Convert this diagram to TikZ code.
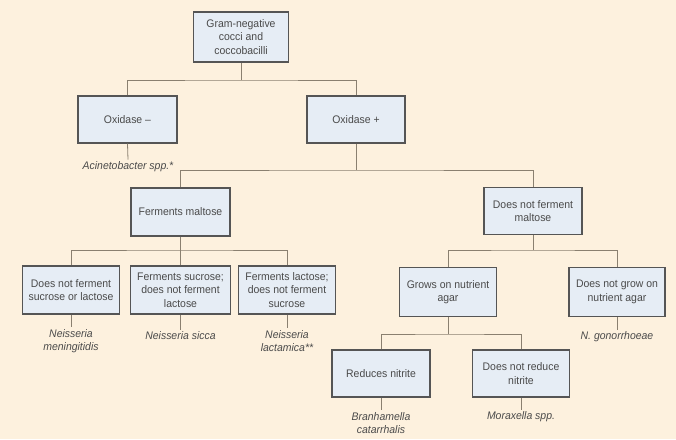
\documentclass[tikz,border=0pt]{standalone}
\usepackage{fontspec}
\setmainfont{Liberation Sans}[FakeStretch=0.95]
\definecolor{bg}{HTML}{FDF1DE}
\definecolor{boxfill}{HTML}{E6EDF5}
\definecolor{boxline}{HTML}{555555}
\definecolor{conn}{HTML}{8A8070}
\definecolor{txt}{HTML}{4A4A4A}
\begin{document}
\begin{tikzpicture}[x=1pt,y=-1pt,
  stepbox/.style={draw=boxline,fill=boxfill,line width=1.3pt,align=center,
    inner sep=2pt,text=txt,font=\fontsize{11}{13.5}\selectfont},
  result/.style={align=center,inner sep=2pt,text=txt,
    font=\fontsize{11}{13.5}\selectfont\itshape},
  link/.style={draw=conn,line width=0.8pt}]
\useasboundingbox[fill=bg] (0,0) rectangle (676,439);
% boxes
\node[stepbox,minimum width=95pt,minimum height=50pt] (top) at (241,37) {Gram-negative\\cocci and\\coccobacilli};
\node[stepbox,minimum width=99pt,minimum height=47pt] (oxm) at (127.5,119.5) {Oxidase –};
\node[stepbox,minimum width=98pt,minimum height=47pt] (oxp) at (356,119.5) {Oxidase +};
\node[stepbox,minimum width=99pt,minimum height=48pt] (fm) at (180.5,212) {Ferments maltose};
\node[stepbox,minimum width=98pt,minimum height=47pt] (nfm) at (533,211) {Does not ferment\\maltose};
\node[stepbox,minimum width=97pt,minimum height=48pt] (l1) at (71,290) {Does not ferment\\sucrose or lactose};
\node[stepbox,minimum width=100pt,minimum height=48pt] (l2) at (180.5,290) {Ferments sucrose;\\does not ferment\\lactose};
\node[stepbox,minimum width=97pt,minimum height=48pt] (l3) at (287,290) {Ferments lactose;\\does not ferment\\sucrose};
\node[stepbox,minimum width=97pt,minimum height=49pt] (grows) at (448,292) {Grows on nutrient\\agar};
\node[stepbox,minimum width=96pt,minimum height=49pt] (notgrow) at (617,292) {Does not grow on\\nutrient agar};
\node[stepbox,minimum width=98pt,minimum height=47pt] (red) at (381,373.5) {Reduces nitrite};
\node[stepbox,minimum width=97pt,minimum height=47pt] (notred) at (521,373.5) {Does not reduce\\nitrite};
% results
\node[result] (acin) at (128,167) {Acinetobacter spp.*};
\node[result] (mening) at (71,341) {Neisseria\\meningitidis};
\node[result] (sicca) at (180.5,336) {Neisseria sicca};
\node[result] (lact) at (287,341) {Neisseria\\lactamica**};
\node[result] (gono) at (617,337) {N. gonorrhoeae};
\node[result] (bran) at (381,423) {Branhamella\\catarrhalis};
\node[result] (morax) at (521,417) {Moraxella spp.};
% junctions
\coordinate (j1) at (241,80);
\coordinate (j2) at (356,170);
\coordinate (j3) at (180.5,250);
\coordinate (j4) at (533,250);
\coordinate (j5) at (448,334);
% connectors
\draw[link] (top.south) -- (j1);
\draw[link] (oxm.north) |- (j1) -| (oxp.north);
\draw[link] (oxm.south) -- (acin.north);
\draw[link] (oxp.south) -- (j2);
\draw[link] (fm.north) |- (j2) -| (nfm.north);
\draw[link] (fm.south) -- (j3);
\draw[link] (l1.north) |- (j3) -| (l3.north);
\draw[link] (l2.north) -- (j3);
\draw[link] (l1.south) -- (mening.north);
\draw[link] (l2.south) -- (sicca.north);
\draw[link] (l3.south) -- (lact.north);
\draw[link] (nfm.south) -- (j4);
\draw[link] (grows.north) |- (j4) -| (notgrow.north);
\draw[link] (notgrow.south) -- (gono.north);
\draw[link] (grows.south) -- (j5);
\draw[link] (red.north) |- (j5) -| (notred.north);
\draw[link] (red.south) -- (bran.north);
\draw[link] (notred.south) -- (morax.north);
\end{tikzpicture}
\end{document}
